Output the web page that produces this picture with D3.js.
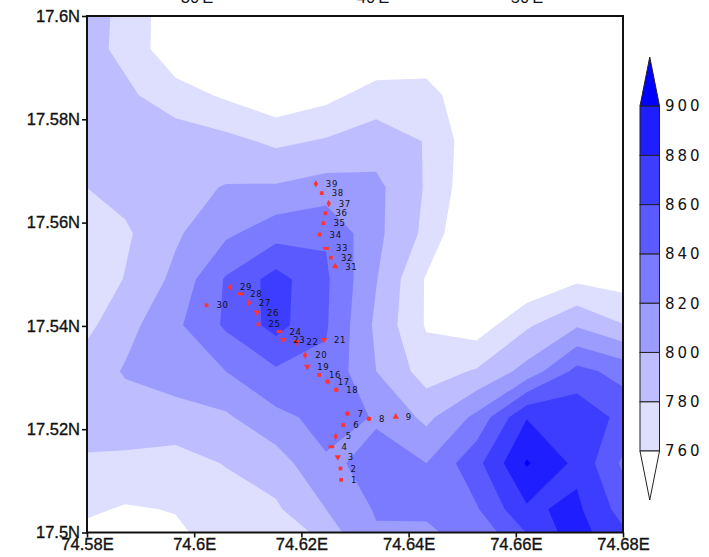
<!DOCTYPE html>
<html>
<head>
<meta charset="utf-8">
<script src="https://cdnjs.cloudflare.com/ajax/libs/d3/7.8.5/d3.min.js"></script>
<style>
  html, body { margin: 0; padding: 0; background: #fff; overflow: hidden; }
  text { font-family: "Liberation Sans", sans-serif; fill: #111; }
</style>
</head>
<body>
<script>
var width = 709,
  height = 557;

// Rainfall grid (rows north to south, columns west to east)
var lon0 = 74.5778, dLon = 0.00936;
var lat0 = 17.6025, dLat = 0.00891;
var gridRows = [
  [790, 776, 745, 735, 725, 728, 730, 735, 725, 715, 715, 715],
  [790, 775, 745, 745, 735, 738, 741, 746, 730, 720, 720, 720],
  [790, 784, 769, 757, 745, 754, 769, 768, 743, 725, 722, 720],
  [786, 790, 791, 786, 776, 782, 790, 779, 745, 725, 725, 722],
  [778, 787, 794, 801, 802, 808, 805, 778, 743, 725, 728, 725],
  [762, 777, 797, 816, 832, 838, 805, 775, 733, 728, 735, 730],
  [762, 781, 805, 842, 868, 843, 801, 758, 730, 742, 756, 751],
  [770, 793, 816, 843, 867, 842, 796, 758, 749, 777, 798, 780],
  [784, 802, 810, 820, 837, 836, 800, 771, 782, 807, 846, 832],
  [787, 790, 792, 797, 815, 826, 819, 795, 825, 879, 875, 852],
  [778, 776, 772, 781, 790, 818, 823, 820, 854, 902, 875, 833],
  [765, 758, 761, 770, 777, 800, 822, 824, 838, 877, 884, 849],
  [748, 750, 752, 765, 775, 775, 814, 809, 822, 845, 888, 872]
];

var levels = [760, 780, 800, 820, 840, 860, 880, 900];
var levelColors = ["#dedeff", "#bdbdff", "#9c9cff", "#7b7bff", "#5a5aff", "#3d3dff", "#1e1eff", "#0000ff"];

var lonTicks = [74.58, 74.6, 74.62, 74.64, 74.66, 74.68];
var latTicks = [17.5, 17.52, 17.54, 17.56, 17.58, 17.6];
var topLabels = ["30'E", "40'E", "50'E"];

// Stations along the route
var stationNames = ["1", "2", "3", "4", "5", "6", "7", "8", "9", "18", "17", "16", "19", "20", "21", "22", "23", "24", "25", "26", "27", "28", "29", "30", "31", "32", "33", "34", "35", "36", "37", "38", "39"];
var stationLon = [74.6274, 74.6273, 74.6268, 74.6256, 74.6264, 74.6278, 74.6286, 74.6326, 74.6376, 74.6265, 74.6249, 74.6233, 74.6211, 74.6207, 74.6242, 74.6191, 74.6166, 74.6159, 74.6120, 74.6117, 74.6102, 74.6086, 74.6067, 74.6023, 74.6263, 74.6255, 74.6246, 74.6234, 74.6241, 74.6245, 74.6251, 74.6238, 74.6227];
var stationLat = [17.5102, 17.5124, 17.5146, 17.5166, 17.5186, 17.5208, 17.5230, 17.5220, 17.5224, 17.5276, 17.5292, 17.5305, 17.5321, 17.5343, 17.5373, 17.5369, 17.5373, 17.5389, 17.5403, 17.5426, 17.5445, 17.5462, 17.5475, 17.5440, 17.5515, 17.5532, 17.5550, 17.5577, 17.5599, 17.5618, 17.5637, 17.5657, 17.5675];
var stationShape = ["square", "square", "tri", "wide", "diamond", "square", "circle", "circle", "up", "circle", "circle", "square", "tri", "diamond", "tri", "tri", "tri", "wide", "square", "tri", "diamond", "wide", "diamond", "square", "up", "square", "wide", "square", "square", "square", "diamond", "square", "diamond"];

// Scales
var x = d3.scaleLinear().domain([74.58, 74.68]).range([87, 623]);
var y = d3.scaleLinear().domain([17.5, 17.6]).range([532.5, 16]);
var colorStops = d3.scaleLinear().domain([760, 900]).range([451, 106]);

var svg = d3.select("body").append("svg")
  .attr("width", width)
  .attr("height", height)
  .style("display", "block");

svg.append("clipPath").attr("id", "plot")
  .append("rect")
  .attr("x", x(74.58)).attr("y", y(17.6))
  .attr("width", x(74.68) - x(74.58))
  .attr("height", y(17.5) - y(17.6));

// Filled contours
var nx = gridRows[0].length,
  ny = gridRows.length;

var contours = d3.contours()
  .size([nx, ny])
  .thresholds(levels)(d3.merge(gridRows));

var gridPath = d3.geoPath(d3.geoTransform({
  point: function (cx, cy) {
    this.stream.point(x(lon0 + (cx - 0.5) * dLon), y(lat0 - (cy - 0.5) * dLat));
  }
}));

svg.append("g")
  .attr("clip-path", "url(#plot)")
  .selectAll("path")
  .data(contours)
  .enter()
  .append("path")
  .attr("d", gridPath)
  .attr("fill", function (d, i) { return levelColors[i]; });

// Axes
var axisFont = function (g) {
  g.selectAll("text")
    .style("font-family", "'Liberation Sans', sans-serif")
    .style("font-size", "16.5px")
    .style("fill", "#111")
    .style("stroke", "#111")
    .style("stroke-width", "0.35px");
  g.selectAll("line").attr("stroke", "#111").attr("stroke-width", 1.6);
  g.select(".domain").remove();
};

svg.append("g")
  .attr("transform", "translate(0," + y(17.5) + ")")
  .call(d3.axisBottom(x).tickValues(lonTicks).tickSize(5).tickPadding(1)
    .tickFormat(function (d) { return d3.format("")(d) + "E"; }))
  .call(axisFont);

svg.append("g")
  .attr("transform", "translate(" + x(74.58) + ",0)")
  .call(d3.axisLeft(y).tickValues(latTicks).tickSize(5).tickPadding(2)
    .tickFormat(function (d) { return d3.format("")(d) + "N"; }))
  .call(axisFont);

svg.append("rect")
  .attr("x", x(74.58)).attr("y", y(17.6))
  .attr("width", x(74.68) - x(74.58))
  .attr("height", y(17.5) - y(17.6))
  .attr("fill", "none")
  .attr("stroke", "#111")
  .attr("stroke-width", 2);

// Stations
var shapes = {
  square: function (g) { g.attr("d", d3.symbol(d3.symbolSquare, 14)); },
  circle: function (g) { g.attr("d", d3.symbol(d3.symbolCircle, 18)); },
  diamond: function (g) { g.attr("d", d3.symbol(d3.symbolDiamond, 16)); },
  up: function (g) { g.attr("d", d3.symbol(d3.symbolTriangle, 18)); },
  tri: function (g) { g.attr("d", d3.symbol(d3.symbolTriangle, 18)).attr("data-flip", 1); },
  wide: function (g) { g.attr("d", "M-2.8,-1.5H2.8V1.5H-2.8Z"); }
};

var station = svg.append("g").selectAll("g")
  .data(stationNames)
  .enter()
  .append("g")
  .attr("transform", function (d, i) { return "translate(" + x(stationLon[i]) + "," + y(stationLat[i]) + ")"; });

station.append("path")
  .each(function (d, i) { shapes[stationShape[i]](d3.select(this)); })
  .attr("transform", function () { return d3.select(this).attr("data-flip") ? "rotate(180)" : null; })
  .attr("fill", "#ff3333");

station.append("text")
  .attr("x", 10)
  .attr("dy", "0.36em")
  .style("font-family", "'DejaVu Sans', sans-serif")
  .style("font-size", "8.5px")
  .style("letter-spacing", "0.6px")
  .text(function (d) { return d; });

// Top labels, cut off by the edge of the picture
svg.append("g").selectAll("text")
  .data(topLabels)
  .enter()
  .append("text")
  .attr("x", function (d, i) { return [197, 373, 527][i]; })
  .attr("y", 3)
  .attr("text-anchor", "middle")
  .style("font-size", "16.5px")
  .text(function (d) { return d; });

// Colour bar
var bar = svg.append("g");
var barLeft = 640, barRight = 659.5, barMid = (barLeft + barRight) / 2;

bar.selectAll("rect")
  .data(d3.range(levels.length - 1))
  .enter()
  .append("rect")
  .attr("x", barLeft)
  .attr("y", function (d) { return colorStops(levels[d + 1]); })
  .attr("width", barRight - barLeft)
  .attr("height", function (d) { return colorStops(levels[d]) - colorStops(levels[d + 1]); })
  .attr("fill", function (d) { return levelColors[d]; })
  .attr("stroke", "#222")
  .attr("stroke-width", 1);

bar.append("path")
  .attr("d", d3.line()([[barLeft, colorStops(900)], [barMid, 57], [barRight, colorStops(900)]]) + "Z")
  .attr("fill", levelColors[levelColors.length - 1])
  .attr("stroke", "#222");

bar.append("path")
  .attr("d", d3.line()([[barLeft, colorStops(760)], [barMid, 500], [barRight, colorStops(760)]]) + "Z")
  .attr("fill", "#fff")
  .attr("stroke", "#222");

bar.selectAll("text")
  .data(levels)
  .enter()
  .append("text")
  .attr("x", 665)
  .attr("y", function (d) { return colorStops(d); })
  .attr("dy", "0.36em")
  .style("font-family", "'DejaVu Sans', sans-serif")
  .style("font-size", "15px")
  .style("letter-spacing", "3px")
  .text(function (d) { return d; });
</script>
</body>
</html>
